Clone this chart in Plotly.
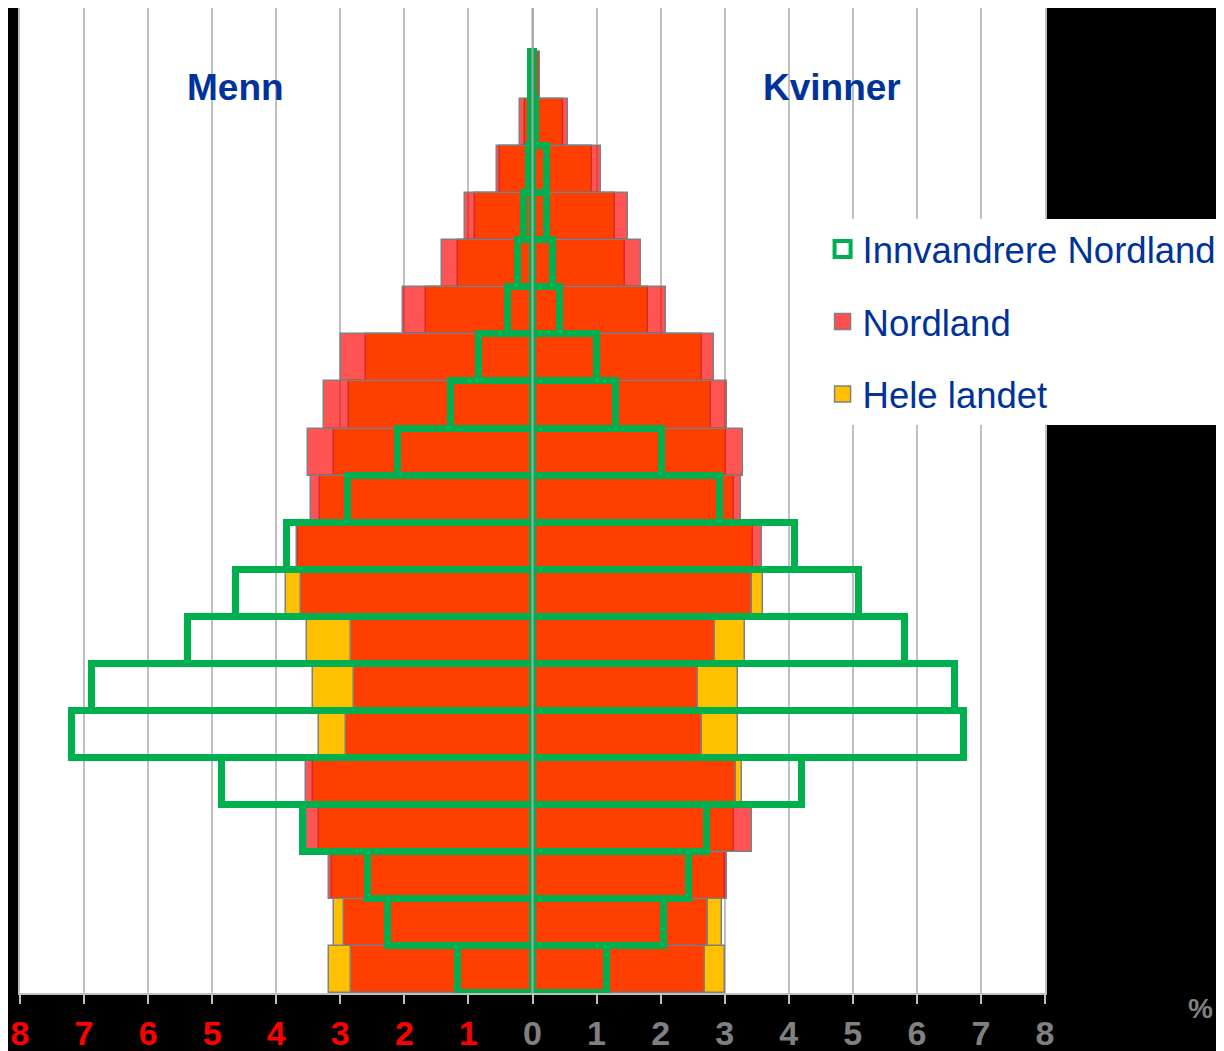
import plotly.graph_objects as go

# Age groups from youngest (bottom) to oldest (top)
age_groups = ["0-4", "5-9", "10-14", "15-19", "20-24", "25-29", "30-34", "35-39", "40-44", "45-49",
              "50-54", "55-59", "60-64", "65-69", "70-74", "75-79", "80-84", "85-89", "90-94", "95+"]

# Percent of population, men
men_hele = [3.18, 3.10, 3.13, 3.34, 3.43, 3.34, 3.43, 3.52, 3.85, 3.66,
            3.32, 3.10, 2.86, 2.60, 1.66, 1.16, 0.89, 0.50, 0.12, 0.04]
men_nordland = [2.84, 2.95, 3.17, 3.52, 3.53, 2.91, 2.79, 2.83, 3.61, 3.68,
                3.45, 3.51, 3.25, 2.99, 2.02, 1.42, 1.06, 0.55, 0.20, 0.06]
men_innv = [1.17, 2.25, 2.57, 3.58, 4.85, 7.19, 6.88, 5.38, 4.63, 3.83,
            2.88, 2.10, 1.28, 0.84, 0.39, 0.23, 0.13, 0.05, 0.03, 0.02]

# Percent of population, women
women_hele = [3.01, 2.96, 3.00, 3.15, 3.27, 3.21, 3.21, 3.31, 3.60, 3.44,
              3.14, 3.02, 2.78, 2.64, 1.81, 1.44, 1.28, 0.93, 0.47, 0.10]
women_nordland = [2.69, 2.74, 3.04, 3.43, 3.18, 2.65, 2.58, 2.85, 3.43, 3.58,
                  3.25, 3.29, 3.03, 2.84, 2.09, 1.69, 1.49, 1.07, 0.56, 0.12]
women_innv = [1.17, 2.05, 2.45, 2.72, 4.20, 6.73, 6.59, 5.81, 5.09, 4.10,
              2.92, 2.02, 1.30, 1.00, 0.43, 0.32, 0.22, 0.22, 0.05, 0.02]

tick_vals = list(range(-8, 9))
tick_labels = ["8", "7", "6", "5", "4", "3", "2", "1", "0", "1", "2", "3", "4", "5", "6", "7", "8"]

FONT = "Liberation Sans Narrow, Liberation Sans, Arial, sans-serif"
BLUE = "#003399"
GREEN = "#00B050"

ypos = list(range(len(age_groups)))
y_both = ypos + ypos


def both(men, women):
    return [-v for v in men] + list(women)


fig = go.Figure()

# Bars (drawn bottom to top): Hele landet, Nordland (semi-transparent), Innvandrere (outline only)
fig.add_trace(go.Bar(
    name="Hele landet", orientation="h", y=y_both, x=both(men_hele, women_hele),
    marker=dict(color="#FFC000", line=dict(color="#808080", width=1.5)),
    showlegend=False, hoverinfo="skip",
))
fig.add_trace(go.Bar(
    name="Nordland", orientation="h", y=y_both, x=both(men_nordland, women_nordland),
    marker=dict(color="rgba(255,0,0,0.67)", line=dict(color="#808080", width=1.5)),
    showlegend=False, hoverinfo="skip",
))
fig.add_trace(go.Bar(
    name="Innvandrere Nordland", orientation="h", y=y_both, x=both(men_innv, women_innv),
    marker=dict(color="rgba(255,255,255,0)", line=dict(color=GREEN, width=7)),
    showlegend=False, hoverinfo="skip",
))

# Legend entries
legend_items = [
    ("Innvandrere Nordland", "white", GREEN, 4),
    ("Nordland", "#FF5050", "#808080", 1.5),
    ("Hele landet", "#FFC000", "#808080", 1.5),
]
for rank, (nm, fillc, linec, lw) in enumerate(legend_items, start=1):
    fig.add_trace(go.Scatter(
        x=[None], y=[None], mode="markers", name=nm,
        marker=dict(symbol="square", size=16, color=fillc, line=dict(color=linec, width=lw)),
        legendgroup=nm, legendrank=rank, showlegend=True, hoverinfo="skip",
    ))

ticktext = []
for v, t in zip(tick_vals, tick_labels):
    col = "#FF0000" if v < 0 else "#808080"
    ticktext.append(f'<span style="color:{col}">{t}</span>')

fig.update_layout(
    width=1224, height=1051,
    margin=dict(l=12, r=187, t=0, b=66),
    paper_bgcolor="black",
    plot_bgcolor="white",
    barmode="overlay",
    bargap=0,
    showlegend=True,
    legend=dict(
        x=0.783, y=0.786, xanchor="left", yanchor="top",
        bgcolor="white", borderwidth=0,
        font=dict(family=FONT, size=36.5, color=BLUE),
        traceorder="grouped", tracegroupgap=22,
        itemsizing="trace",
    ),
    xaxis=dict(
        range=[-8, 8], tickmode="array", tickvals=tick_vals, ticktext=ticktext,
        tickfont=dict(family=FONT, size=34, color="#808080", weight="bold"),
        showgrid=True, gridcolor="#C0C0C0", gridwidth=2,
        zeroline=False,
        showline=True, linecolor="#C0C0C0", linewidth=2, mirror=True,
        ticks="outside", ticklen=9, tickwidth=2, tickcolor="#C0C0C0",
        fixedrange=True, automargin=False,
    ),
    yaxis=dict(
        range=[-0.5, 20.44], showticklabels=False, showgrid=False, zeroline=False,
        showline=True, linecolor="#C0C0C0", linewidth=2, mirror=True, ticks="",
        fixedrange=True, automargin=False,
    ),
    shapes=[dict(type="line", xref="x", yref="paper", x0=0, x1=0, y0=0, y1=1,
                 line=dict(color="#A6A6A6", width=2), layer="above")],
    annotations=[
        dict(text="<b>Menn</b>", x=-4.64, y=0.919, xref="x", yref="paper",
             xanchor="center", yanchor="middle",
             showarrow=False, font=dict(family=FONT, size=37, color=BLUE)),
        dict(text="<b>Kvinner</b>", x=4.68, y=0.919, xref="x", yref="paper",
             xanchor="center", yanchor="middle",
             showarrow=False, font=dict(family=FONT, size=37, color=BLUE)),
        dict(text="<b>%</b>", x=1.138, y=-0.016, xref="paper", yref="paper",
             xanchor="left", yanchor="middle", showarrow=False,
             font=dict(family=FONT, size=28, color="#808080")),
    ],
)

fig.write_html("out.html")
